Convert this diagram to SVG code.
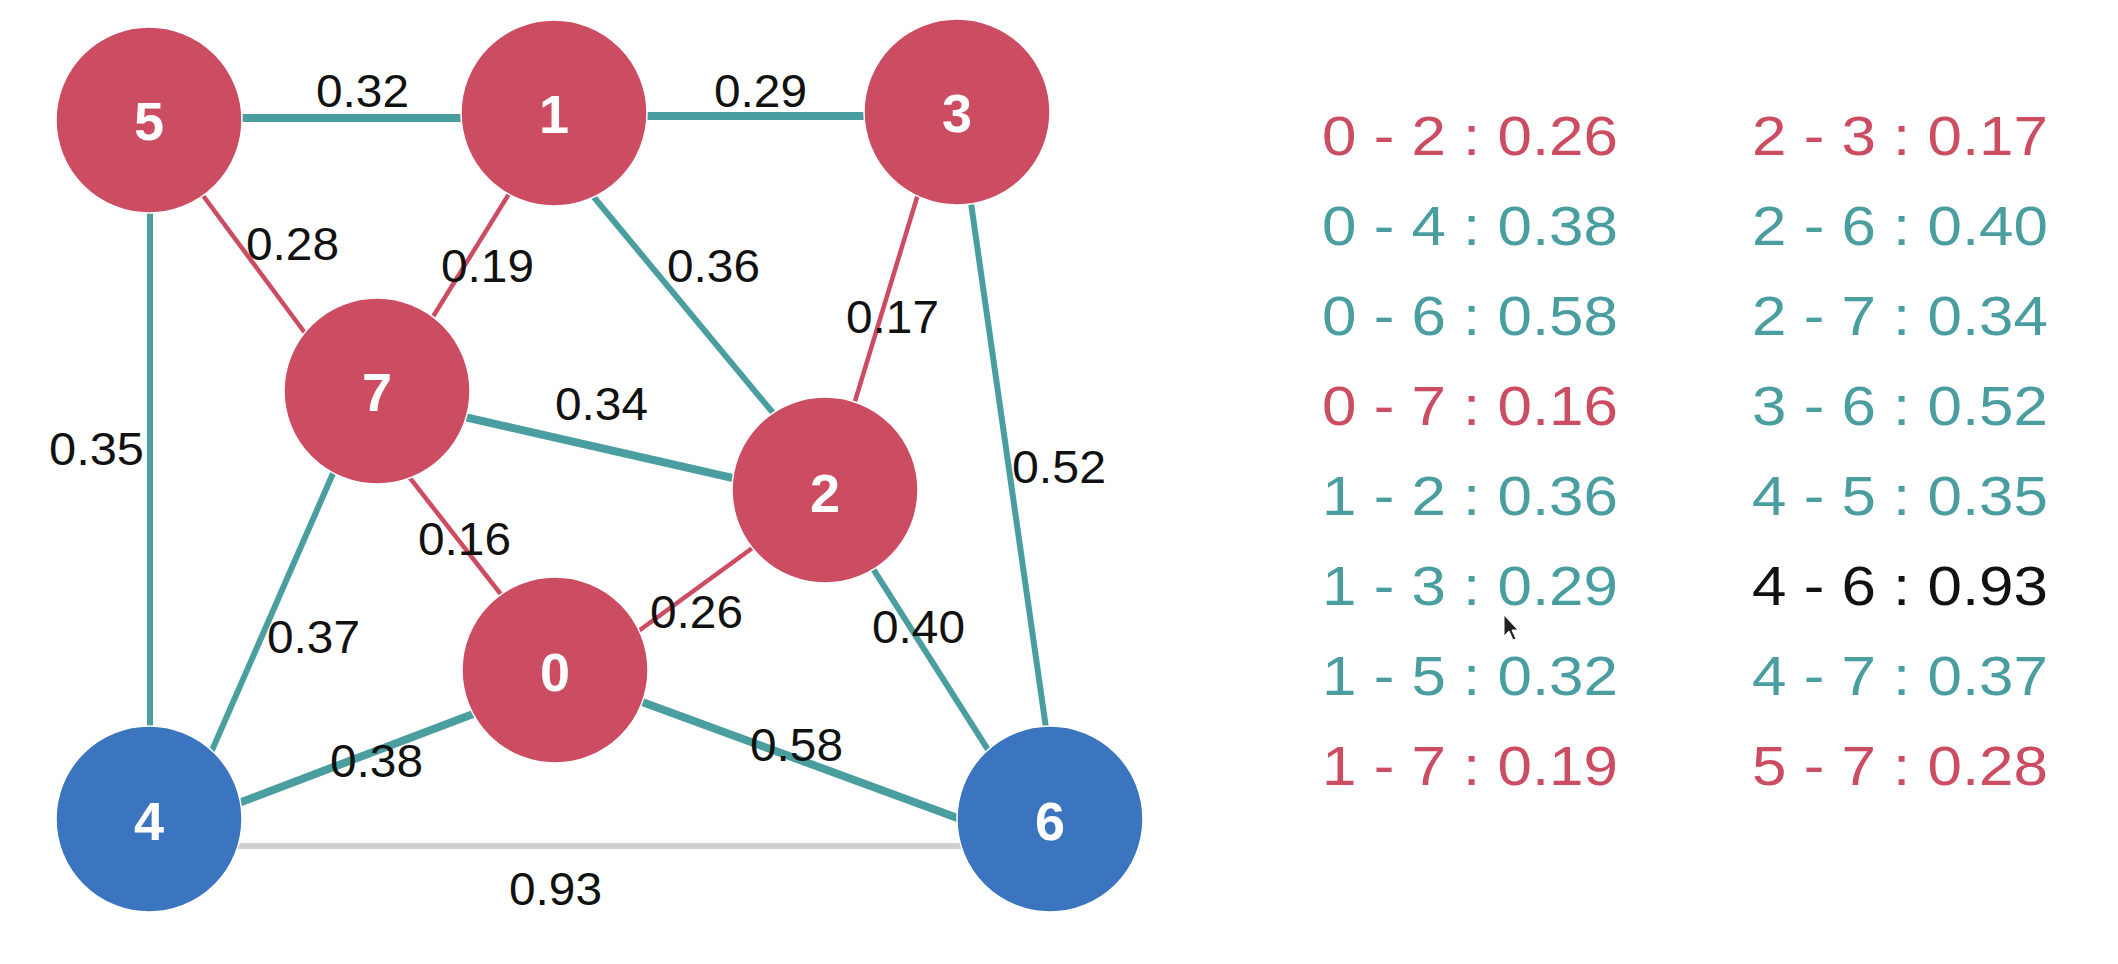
<svg xmlns="http://www.w3.org/2000/svg" width="2118" height="964" viewBox="0 0 2118 964">
  <style>
    .bg { fill: #ffffff; }
    .edge { fill: none; stroke-linecap: butt; }
    .teal { stroke: #4a9ea0; }
    .thick { stroke-width: 8; }
    .mid { stroke-width: 6; }
    .red { stroke: #cc4c61; stroke-width: 4.5; }
    .gray { stroke: #cfcfcf; stroke-width: 6; }
    .wlabel { font-family: "Liberation Sans", Arial, sans-serif; font-size: 47px; fill: #111111; }
    .node circle { stroke: #ffffff; stroke-width: 1.5; }
    .node.r circle { fill: #cc4c61; }
    .node.b circle { fill: #3b74bf; }
    .node text { font-family: "Liberation Sans", Arial, sans-serif; font-size: 54px; font-weight: bold; fill: #ffffff; text-anchor: middle; }
    .legend text { font-family: "Liberation Sans", Arial, sans-serif; font-size: 56px; }
    .lr { fill: #cc4c61; }
    .lt { fill: #4a9ea0; }
    .lk { fill: #111111; }
  </style>

  <rect class="bg" x="0" y="0" width="2118" height="964"/>

  <!-- connectors, drawn first so the circles sit on top -->
  <g id="edges">
    <line class="edge gray" x1="149" y1="846" x2="1050" y2="846"/>
    <line class="edge teal thick" x1="149" y1="118" x2="554" y2="118"/>
    <line class="edge teal thick" x1="554" y1="116" x2="957" y2="116"/>
    <line class="edge teal mid" x1="150" y1="120" x2="150" y2="819"/>
    <line class="edge red" x1="147" y1="120" x2="348" y2="391"/>
    <line class="edge red" x1="559" y1="113" x2="387" y2="391"/>
    <line class="edge teal mid" x1="524" y1="113" x2="837" y2="490"/>
    <line class="edge red" x1="943" y1="112" x2="828" y2="490"/>
    <line class="edge teal mid" x1="958" y1="112" x2="1059" y2="819"/>
    <line class="edge teal thick" x1="377" y1="397" x2="825" y2="499"/>
    <line class="edge red" x1="342" y1="391" x2="560" y2="670"/>
    <line class="edge teal mid" x1="369" y1="391" x2="182" y2="819"/>
    <line class="edge red" x1="555" y1="692" x2="825" y2="495"/>
    <line class="edge teal mid" x1="823" y1="490" x2="1032" y2="819"/>
    <line class="edge teal thick" x1="149" y1="837" x2="555" y2="683"/>
    <line class="edge teal thick" x1="555" y1="670" x2="1050" y2="852"/>
  </g>

  <!-- edge weights -->
  <g id="weights">
    <text class="wlabel" x="316" y="107" textLength="93" lengthAdjust="spacingAndGlyphs">0.32</text>
    <text class="wlabel" x="714" y="107" textLength="93" lengthAdjust="spacingAndGlyphs">0.29</text>
    <text class="wlabel" x="246" y="260" textLength="93" lengthAdjust="spacingAndGlyphs">0.28</text>
    <text class="wlabel" x="441" y="282" textLength="93" lengthAdjust="spacingAndGlyphs">0.19</text>
    <text class="wlabel" x="667" y="282" textLength="93" lengthAdjust="spacingAndGlyphs">0.36</text>
    <text class="wlabel" x="846" y="333" textLength="93" lengthAdjust="spacingAndGlyphs">0.17</text>
    <text class="wlabel" x="555" y="420" textLength="93" lengthAdjust="spacingAndGlyphs">0.34</text>
    <text class="wlabel" x="49" y="465" textLength="95" lengthAdjust="spacingAndGlyphs">0.35</text>
    <text class="wlabel" x="1012" y="483" textLength="94" lengthAdjust="spacingAndGlyphs">0.52</text>
    <text class="wlabel" x="418" y="555" textLength="93" lengthAdjust="spacingAndGlyphs">0.16</text>
    <text class="wlabel" x="650" y="628" textLength="93" lengthAdjust="spacingAndGlyphs">0.26</text>
    <text class="wlabel" x="267" y="653" textLength="93" lengthAdjust="spacingAndGlyphs">0.37</text>
    <text class="wlabel" x="872" y="643" textLength="93" lengthAdjust="spacingAndGlyphs">0.40</text>
    <text class="wlabel" x="330" y="777" textLength="93" lengthAdjust="spacingAndGlyphs">0.38</text>
    <text class="wlabel" x="750" y="761" textLength="93" lengthAdjust="spacingAndGlyphs">0.58</text>
    <text class="wlabel" x="509" y="905" textLength="93" lengthAdjust="spacingAndGlyphs">0.93</text>
  </g>

  <!-- vertices -->
  <g id="node-5" class="node r"><circle cx="149" cy="120" r="93"/><text x="149" y="140">5</text></g>
  <g id="node-1" class="node r"><circle cx="554" cy="113" r="93"/><text x="554" y="133">1</text></g>
  <g id="node-3" class="node r"><circle cx="957" cy="112" r="93"/><text x="957" y="132">3</text></g>
  <g id="node-7" class="node r"><circle cx="377" cy="391" r="93"/><text x="377" y="411">7</text></g>
  <g id="node-2" class="node r"><circle cx="825" cy="490" r="93"/><text x="825" y="512">2</text></g>
  <g id="node-0" class="node r"><circle cx="555" cy="670" r="93"/><text x="555" y="691">0</text></g>
  <g id="node-4" class="node b"><circle cx="149" cy="819" r="93"/><text x="149" y="840">4</text></g>
  <g id="node-6" class="node b"><circle cx="1050" cy="819" r="93"/><text x="1050" y="840">6</text></g>

  <!-- edge list -->
  <g id="legend" class="legend">
    <text class="lr" x="1322" y="155" textLength="296" lengthAdjust="spacingAndGlyphs">0 - 2 : 0.26</text>
    <text class="lt" x="1322" y="245" textLength="296" lengthAdjust="spacingAndGlyphs">0 - 4 : 0.38</text>
    <text class="lt" x="1322" y="335" textLength="296" lengthAdjust="spacingAndGlyphs">0 - 6 : 0.58</text>
    <text class="lr" x="1322" y="425" textLength="296" lengthAdjust="spacingAndGlyphs">0 - 7 : 0.16</text>
    <text class="lt" x="1322" y="515" textLength="296" lengthAdjust="spacingAndGlyphs">1 - 2 : 0.36</text>
    <text class="lt" x="1322" y="605" textLength="296" lengthAdjust="spacingAndGlyphs">1 - 3 : 0.29</text>
    <text class="lt" x="1322" y="695" textLength="296" lengthAdjust="spacingAndGlyphs">1 - 5 : 0.32</text>
    <text class="lr" x="1322" y="785" textLength="296" lengthAdjust="spacingAndGlyphs">1 - 7 : 0.19</text>
    <text class="lr" x="1752" y="155" textLength="296" lengthAdjust="spacingAndGlyphs">2 - 3 : 0.17</text>
    <text class="lt" x="1752" y="245" textLength="296" lengthAdjust="spacingAndGlyphs">2 - 6 : 0.40</text>
    <text class="lt" x="1752" y="335" textLength="296" lengthAdjust="spacingAndGlyphs">2 - 7 : 0.34</text>
    <text class="lt" x="1752" y="425" textLength="296" lengthAdjust="spacingAndGlyphs">3 - 6 : 0.52</text>
    <text class="lt" x="1752" y="515" textLength="296" lengthAdjust="spacingAndGlyphs">4 - 5 : 0.35</text>
    <text class="lk" x="1752" y="605" textLength="296" lengthAdjust="spacingAndGlyphs">4 - 6 : 0.93</text>
    <text class="lt" x="1752" y="695" textLength="296" lengthAdjust="spacingAndGlyphs">4 - 7 : 0.37</text>
    <text class="lr" x="1752" y="785" textLength="296" lengthAdjust="spacingAndGlyphs">5 - 7 : 0.28</text>
  </g>

  <!-- pointer -->
  <path id="pointer" d="M1504 615 L1504 636 L1509 631 L1513 640 L1516 639 L1512 630 L1518 630 Z" fill="#222222" stroke="#ffffff" stroke-width="1"/>
</svg>
